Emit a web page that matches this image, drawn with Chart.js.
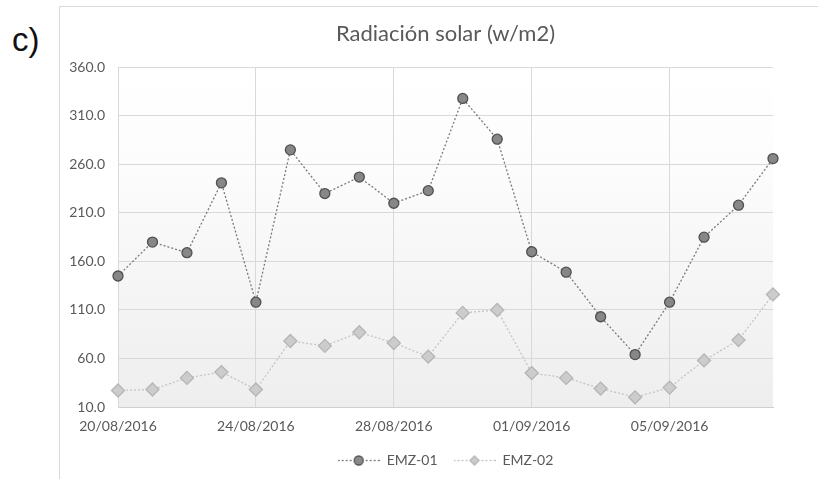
<!DOCTYPE html>
<html>
<head>
<meta charset="utf-8">
<script src="https://cdn.jsdelivr.net/npm/chart.js@4.4.1/dist/chart.umd.min.js"></script>
<style>
  html, body { margin: 0; padding: 0; background: #ffffff; }
  #wrap { position: relative; width: 818px; height: 479px; overflow: hidden; }
  #frame { position: absolute; left: 59px; top: 6px; width: 800px; height: 500px;
           border-left: 1px solid #d9d9d9; border-top: 1px solid #d9d9d9; }
  #tag { position: absolute; left: 12px; top: 23px; font-family: "Liberation Sans", Arial, sans-serif;
         font-size: 33px; line-height: 33px; color: #111; }
  #c { position: absolute; left: 0; top: 0; }
</style>
</head>
<body>
<div id="wrap">
  <div id="frame"></div>
  <div id="tag">c)</div>
  <canvas id="c" width="818" height="479"></canvas>
</div>
<script>
const dates = ['20/08/2016','21/08/2016','22/08/2016','23/08/2016','24/08/2016','25/08/2016','26/08/2016',
  '27/08/2016','28/08/2016','29/08/2016','30/08/2016','31/08/2016','01/09/2016','02/09/2016',
  '03/09/2016','04/09/2016','05/09/2016','06/09/2016','07/09/2016','08/09/2016'];
const xTickLabels = ['20/08/2016','24/08/2016','28/08/2016','01/09/2016','05/09/2016'];
const emz01 = [145, 180, 169, 241, 118, 275, 230, 247, 220, 233, 328, 286, 170, 149, 103, 64, 118, 185, 218, 266];
const emz02 = [27, 28, 40, 46, 28, 78, 73, 87, 76, 62, 107, 110, 45, 40, 29, 20, 30, 58, 79, 126];
const seriesNames = ['EMZ-01', 'EMZ-02'];
const chartTitle = 'Radiación solar (w/m2)';

const TXT = '#595959';
const FONT = 'Lato, "Open Sans", sans-serif';

function legendSample(lineColor, style, fill, stroke, r) {
  const c = document.createElement('canvas');
  c.width = 42; c.height = 14;
  const g = c.getContext('2d');
  g.strokeStyle = lineColor; g.lineWidth = 1.3; g.setLineDash([2, 2]);
  g.beginPath(); g.moveTo(0, 7.5); g.lineTo(42, 7.5); g.stroke();
  g.setLineDash([]);
  g.fillStyle = fill; g.strokeStyle = stroke; g.lineWidth = 1.3;
  g.beginPath();
  if (style === 'circle') {
    g.arc(21, 7.5, r, 0, Math.PI * 2);
  } else {
    g.moveTo(21, 7.5 - r); g.lineTo(21 + r, 7.5); g.lineTo(21, 7.5 + r); g.lineTo(21 - r, 7.5); g.closePath();
  }
  g.fill(); g.stroke();
  return c;
}
const samples = [
  legendSample('#7a7a7a', 'circle', '#8a8a8a', '#555555', 4.5),
  legendSample('#c4c4c4', 'diamond', '#cccccc', '#b5b5b5', 4.5)
];

const plotBg = {
  id: 'plotBg',
  beforeDraw(chart) {
    const a = chart.chartArea, ctx = chart.ctx;
    const grd = ctx.createLinearGradient(0, a.top, 0, a.bottom);
    grd.addColorStop(0, '#ffffff');
    grd.addColorStop(0.3, '#fcfcfc');
    grd.addColorStop(1, '#eeeeee');
    ctx.save(); ctx.fillStyle = grd; ctx.fillRect(a.left, a.top, a.right - a.left, a.bottom - a.top); ctx.restore();
  }
};

new Chart(document.getElementById('c'), {
  type: 'line',
  data: {
    labels: dates,
    datasets: [
      {
        label: seriesNames[0], data: emz01,
        borderColor: '#7a7a7a', borderWidth: 1.3, borderDash: [2, 2],
        pointStyle: 'circle', pointRadius: 5, pointBackgroundColor: '#878787',
        pointBorderColor: '#505050', pointBorderWidth: 1.3, tension: 0
      },
      {
        label: seriesNames[1], data: emz02,
        borderColor: '#c4c4c4', borderWidth: 1.3, borderDash: [2, 2],
        pointStyle: 'rectRot', pointRadius: 6.5, pointBackgroundColor: '#cccccc',
        pointBorderColor: '#b5b5b5', pointBorderWidth: 1.3, tension: 0
      }
    ]
  },
  options: {
    responsive: false, animation: false,
    layout: { padding: { top: 21, left: 60, right: 45, bottom: 2 } },
    plugins: {
      tooltip: { enabled: false },
      title: {
        display: true, text: chartTitle, fullSize: false, color: TXT,
        font: { family: FONT, size: 22, weight: 'normal' }, padding: { top: 0, bottom: 20 }
      },
      legend: {
        position: 'bottom', fullSize: false,
        labels: {
          color: TXT, font: { family: FONT, size: 14 }, usePointStyle: true, pointStyleWidth: 42,
          boxHeight: 14, padding: 16,
          generateLabels(chart) {
            return chart.data.datasets.map((d, i) => ({
              text: d.label, pointStyle: samples[i], datasetIndex: i, fontColor: TXT,
              lineWidth: 0, strokeStyle: 'transparent', fillStyle: 'transparent', hidden: false
            }));
          }
        }
      }
    },
    scales: {
      x: {
        offset: false,
        afterFit(s) { s.height = 30; },
        grid: {
          drawTicks: false,
          color(ctx) { return ctx.tick && xTickLabels.includes(dates[ctx.tick.value]) ? '#d9d9d9' : 'rgba(0,0,0,0)'; }
        },
        border: { color: '#d0d0d0' },
        ticks: {
          autoSkip: false, maxRotation: 0, padding: 11, color: TXT, font: { family: FONT, size: 14 },
          callback(v, i) { return xTickLabels.includes(dates[i]) ? dates[i] : null; }
        }
      },
      y: {
        min: 10, max: 360,
        afterFit(s) { s.width = 58; },
        grid: { drawTicks: false, color: '#d9d9d9' },
        border: { color: '#d9d9d9' },
        ticks: { stepSize: 50, padding: 13, color: TXT, font: { family: FONT, size: 14 },
          callback(v) { return Number(v).toFixed(1); } }
      }
    }
  },
  plugins: [plotBg]
});
</script>
</body>
</html>
